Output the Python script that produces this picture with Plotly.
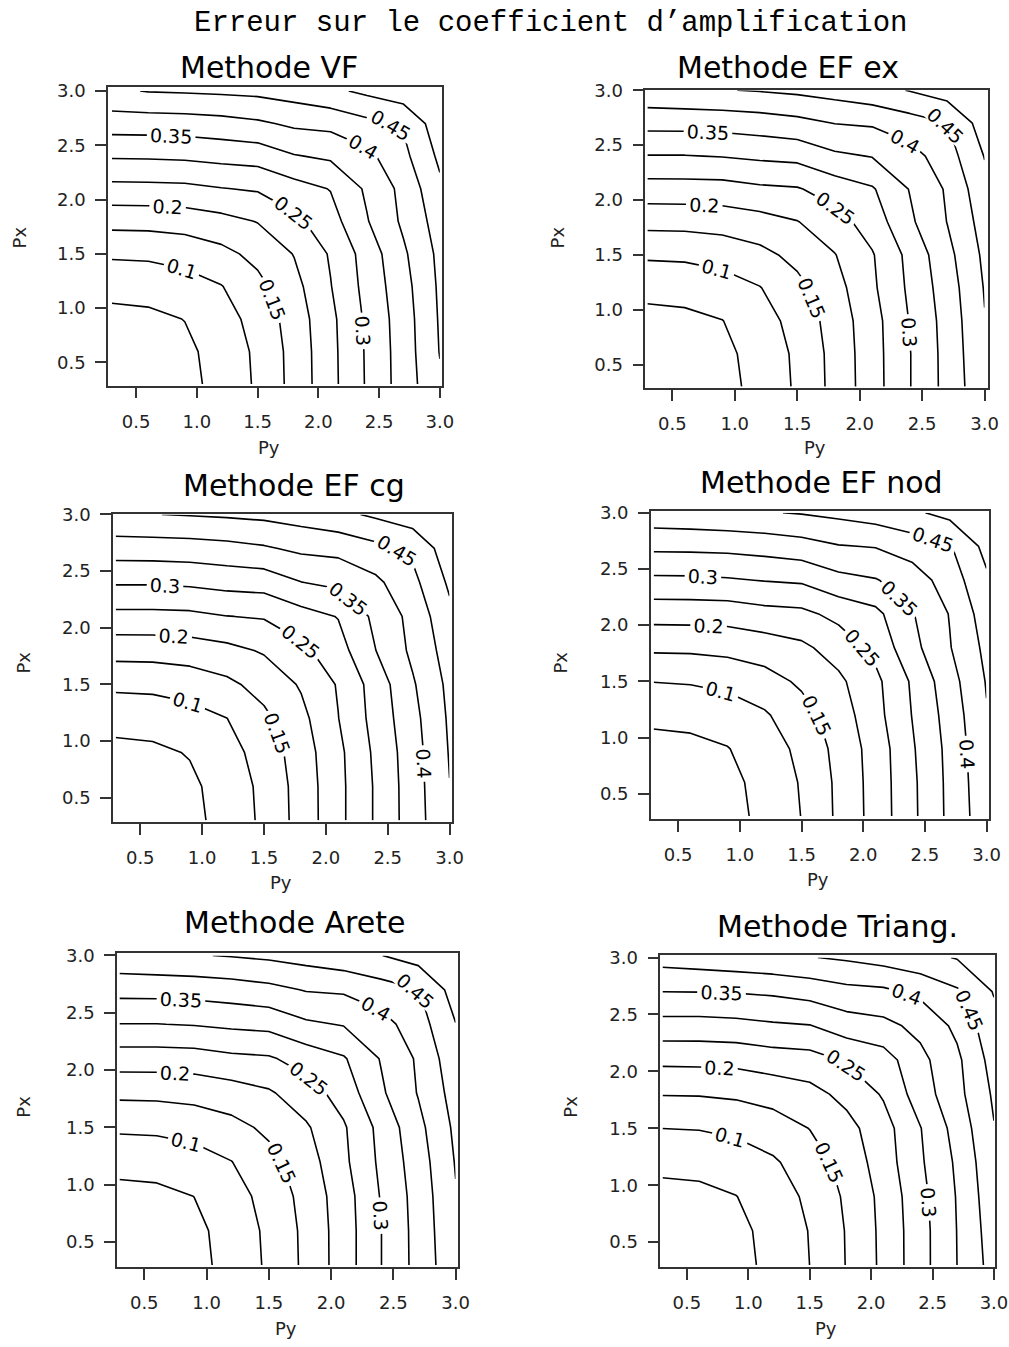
import plotly.graph_objects as go

# Grid of phase parameters (same for Px and Py)
P = [0.3, 0.6, 0.9, 1.2, 1.5, 1.8, 2.1, 2.4, 2.7, 3.0]

# Error on the amplification coefficient; rows = Px, columns = Py
err_vf = [
    [0.006, 0.016, 0.035, 0.066, 0.107, 0.166, 0.235, 0.305, 0.373, 0.443],
    [0.016, 0.023, 0.039, 0.069, 0.109, 0.167, 0.236, 0.306, 0.374, 0.452],
    [0.035, 0.039, 0.051, 0.079, 0.118, 0.172, 0.238, 0.309, 0.376, 0.455],
    [0.066, 0.069, 0.079, 0.098, 0.136, 0.184, 0.248, 0.316, 0.382, 0.458],
    [0.107, 0.109, 0.118, 0.136, 0.164, 0.202, 0.255, 0.321, 0.392, 0.462],
    [0.166, 0.167, 0.172, 0.184, 0.202, 0.238, 0.280, 0.347, 0.409, 0.472],
    [0.235, 0.236, 0.238, 0.248, 0.255, 0.280, 0.302, 0.358, 0.414, 0.490],
    [0.305, 0.306, 0.309, 0.316, 0.321, 0.347, 0.358, 0.387, 0.437, 0.510],
    [0.373, 0.374, 0.376, 0.382, 0.392, 0.409, 0.414, 0.437, 0.455, 0.530],
    [0.443, 0.452, 0.455, 0.458, 0.462, 0.472, 0.490, 0.510, 0.530, 0.550],
]

err_ef_ex = [
    [0.005, 0.016, 0.034, 0.065, 0.107, 0.165, 0.228, 0.298, 0.366, 0.438],
    [0.016, 0.022, 0.038, 0.068, 0.109, 0.166, 0.229, 0.298, 0.367, 0.443],
    [0.034, 0.038, 0.049, 0.078, 0.118, 0.171, 0.230, 0.302, 0.369, 0.448],
    [0.065, 0.068, 0.078, 0.098, 0.136, 0.181, 0.241, 0.309, 0.375, 0.453],
    [0.107, 0.109, 0.118, 0.136, 0.164, 0.198, 0.246, 0.314, 0.385, 0.460],
    [0.165, 0.166, 0.171, 0.181, 0.198, 0.230, 0.272, 0.341, 0.401, 0.470],
    [0.228, 0.229, 0.230, 0.241, 0.246, 0.272, 0.295, 0.352, 0.406, 0.485],
    [0.298, 0.298, 0.302, 0.309, 0.314, 0.341, 0.352, 0.380, 0.428, 0.502],
    [0.366, 0.367, 0.369, 0.375, 0.385, 0.401, 0.406, 0.428, 0.449, 0.525],
    [0.438, 0.443, 0.448, 0.453, 0.460, 0.470, 0.485, 0.502, 0.525, 0.545],
]

err_ef_cg = [
    [0.006, 0.017, 0.036, 0.068, 0.110, 0.169, 0.236, 0.305, 0.375, 0.445],
    [0.017, 0.023, 0.040, 0.071, 0.112, 0.170, 0.236, 0.305, 0.376, 0.449],
    [0.036, 0.040, 0.053, 0.081, 0.121, 0.175, 0.238, 0.309, 0.378, 0.453],
    [0.068, 0.071, 0.081, 0.0995, 0.139, 0.186, 0.249, 0.317, 0.384, 0.457],
    [0.110, 0.112, 0.121, 0.139, 0.168, 0.205, 0.254, 0.321, 0.394, 0.462],
    [0.169, 0.170, 0.175, 0.186, 0.205, 0.238, 0.280, 0.349, 0.410, 0.472],
    [0.236, 0.236, 0.238, 0.249, 0.254, 0.280, 0.302, 0.361, 0.415, 0.488],
    [0.305, 0.305, 0.309, 0.317, 0.321, 0.349, 0.361, 0.389, 0.436, 0.508],
    [0.375, 0.376, 0.378, 0.384, 0.394, 0.410, 0.415, 0.436, 0.460, 0.528],
    [0.445, 0.449, 0.453, 0.457, 0.462, 0.472, 0.488, 0.508, 0.528, 0.548],
]

err_ef_nod = [
    [0.005, 0.015, 0.033, 0.062, 0.101, 0.159, 0.219, 0.290, 0.361, 0.432],
    [0.015, 0.021, 0.037, 0.065, 0.104, 0.160, 0.220, 0.291, 0.362, 0.436],
    [0.033, 0.037, 0.048, 0.075, 0.112, 0.165, 0.221, 0.295, 0.364, 0.441],
    [0.062, 0.065, 0.075, 0.094, 0.131, 0.174, 0.233, 0.302, 0.370, 0.447],
    [0.101, 0.104, 0.112, 0.131, 0.158, 0.190, 0.238, 0.307, 0.380, 0.453],
    [0.159, 0.160, 0.165, 0.174, 0.190, 0.221, 0.264, 0.335, 0.397, 0.462],
    [0.219, 0.220, 0.221, 0.233, 0.238, 0.264, 0.287, 0.347, 0.402, 0.475],
    [0.290, 0.291, 0.295, 0.302, 0.307, 0.335, 0.347, 0.375, 0.423, 0.492],
    [0.361, 0.362, 0.364, 0.370, 0.380, 0.397, 0.402, 0.423, 0.445, 0.515],
    [0.432, 0.436, 0.441, 0.447, 0.453, 0.462, 0.475, 0.492, 0.515, 0.540],
]

err_arete = [
    [0.006, 0.016, 0.035, 0.066, 0.108, 0.161, 0.225, 0.299, 0.367, 0.437],
    [0.016, 0.022, 0.038, 0.069, 0.110, 0.162, 0.225, 0.299, 0.368, 0.442],
    [0.035, 0.038, 0.0503, 0.079, 0.118, 0.167, 0.227, 0.303, 0.370, 0.447],
    [0.066, 0.069, 0.079, 0.099, 0.135, 0.177, 0.239, 0.310, 0.376, 0.453],
    [0.108, 0.110, 0.118, 0.135, 0.160, 0.194, 0.244, 0.315, 0.386, 0.460],
    [0.161, 0.162, 0.167, 0.177, 0.194, 0.227, 0.271, 0.342, 0.403, 0.470],
    [0.225, 0.225, 0.227, 0.239, 0.244, 0.271, 0.295, 0.353, 0.407, 0.484],
    [0.299, 0.299, 0.303, 0.310, 0.315, 0.342, 0.353, 0.381, 0.428, 0.499],
    [0.367, 0.368, 0.370, 0.376, 0.386, 0.403, 0.407, 0.428, 0.448, 0.522],
    [0.437, 0.442, 0.447, 0.453, 0.460, 0.470, 0.484, 0.499, 0.522, 0.545],
]

err_triang = [
    [0.005, 0.016, 0.034, 0.063, 0.1002, 0.152, 0.211, 0.281, 0.3502, 0.420],
    [0.016, 0.022, 0.037, 0.066, 0.102, 0.153, 0.212, 0.281, 0.351, 0.426],
    [0.034, 0.037, 0.049, 0.075, 0.110, 0.158, 0.214, 0.285, 0.353, 0.433],
    [0.063, 0.066, 0.075, 0.093, 0.127, 0.168, 0.225, 0.293, 0.358, 0.440],
    [0.1002, 0.102, 0.110, 0.127, 0.151, 0.184, 0.230, 0.298, 0.369, 0.448],
    [0.152, 0.153, 0.158, 0.168, 0.184, 0.214, 0.255, 0.325, 0.385, 0.457],
    [0.211, 0.212, 0.214, 0.225, 0.230, 0.255, 0.278, 0.336, 0.390, 0.470],
    [0.281, 0.281, 0.285, 0.293, 0.298, 0.325, 0.336, 0.364, 0.411, 0.485],
    [0.3502, 0.351, 0.353, 0.358, 0.369, 0.385, 0.390, 0.411, 0.443, 0.503],
    [0.420, 0.426, 0.433, 0.440, 0.448, 0.457, 0.470, 0.485, 0.503, 0.525],
]

tick_vals = [0.5, 1.0, 1.5, 2.0, 2.5, 3.0]
tick_text = ["0.5", "1.0", "1.5", "2.0", "2.5", "3.0"]

W, H = 1009, 1347
SANS = "DejaVu Sans"
MONO = "Courier New, Courier, Nimbus Mono PS, FreeMono, Liberation Mono, monospace"

# title, data, plot box in px (left, right, top, bottom), x range, y range,
# title centre, "Py" label centre, "Px" label centre
panels = [
    ("Methode VF", err_vf, (109.4, 448.1, 77.9, 378.5), (0.268, 3.02), (0.286, 3.034),
     (272.5, 57.8), (272.5, 440.8), (19.7, 228.7)),
    ("Methode EF ex", err_ef_ex, (653.7, 1000.8, 80.2, 380.8), (0.284, 3.026), (0.288, 3.006),
     (798.3, 57.8), (825.6, 440.8), (564.7, 228.7)),
    ("Methode EF cg", err_ef_cg, (114.5, 458.2, 507.5, 818.1), (0.28, 3.022), (0.286, 3.006),
     (297.8, 479.0), (284.6, 879.2), (23.8, 657.0)),
    ("Methode EF nod", err_ef_nod, (659.4, 1001.8, 504.9, 814.8), (0.279, 3.019), (0.278, 3.014),
     (832.6, 476.0), (828.6, 876.2), (567.7, 657.0)),
    ("Methode Arete", err_arete, (118.5, 463.9, 950.5, 1266.5), (0.281, 3.018), (0.282, 3.017),
     (298.8, 919.4), (289.7, 1328.5), (23.8, 1104.4)),
    ("Methode Triang.", err_triang, (668.9, 1008.3, 952.3, 1266.5), (0.283, 3.011), (0.281, 3.02),
     (848.8, 923.4), (836.7, 1328.5), (577.9, 1104.4)),
]

fig = go.Figure()
layout = {}
annotations = [
    dict(text="Erreur sur le coefficient d\u2019amplification", x=557.7 / W, y=1 - 14 / H,
         xref="paper", yref="paper", showarrow=False, xanchor="center", yanchor="middle",
         font=dict(family=MONO, size=29, color="black")),
]

for k, (title, z, box, xr, yr, tpos, pypos, pxpos) in enumerate(panels, start=1):
    left, right, top, bottom = box
    xname = "x" if k == 1 else f"x{k}"
    yname = "y" if k == 1 else f"y{k}"
    fig.add_trace(go.Contour(
        x=P, y=P, z=z, xaxis=xname, yaxis=yname,
        contours=dict(start=0.05, end=0.5001, size=0.05, coloring="lines",
                      showlabels=True,
                      labelfont=dict(family=SANS, size=19, color="black")),
        colorscale=[[0, "black"], [1, "black"]], showscale=False,
        line=dict(width=1.6, smoothing=0), hoverinfo="skip",
    ))
    common = dict(showgrid=False, zeroline=False, showline=True, mirror=True,
                  linecolor="#333333", linewidth=1.5, ticks="outside", ticklen=11,
                  tickwidth=1.5, tickcolor="#333333", tickvals=tick_vals,
                  ticktext=tick_text, ticklabeloverflow="allow",
                  tickfont=dict(family=SANS, size=18, color="#222222"))
    layout["xaxis" if k == 1 else f"xaxis{k}"] = dict(
        common, domain=[left / W, right / W], range=list(xr), anchor=yname,
        ticklabelstandoff=8)
    layout["yaxis" if k == 1 else f"yaxis{k}"] = dict(
        common, domain=[1 - bottom / H, 1 - top / H], range=list(yr), anchor=xname,
        ticklabelstandoff=6)
    annotations.append(dict(text=title, x=tpos[0] / W, y=1 - tpos[1] / H, xref="paper",
                            yref="paper", showarrow=False, xanchor="center", yanchor="middle",
                            font=dict(family=SANS, size=30, color="black")))
    annotations.append(dict(text="Py", x=pypos[0] / W, y=1 - pypos[1] / H, xref="paper",
                            yref="paper", showarrow=False, xanchor="center", yanchor="middle",
                            font=dict(family=SANS, size=18, color="#222222")))
    annotations.append(dict(text="Px", x=pxpos[0] / W, y=1 - pxpos[1] / H, xref="paper",
                            yref="paper", showarrow=False, xanchor="center", yanchor="middle",
                            textangle=-90, font=dict(family=SANS, size=18, color="#222222")))

fig.update_layout(
    width=W, height=H, margin=dict(l=0, r=0, t=0, b=0),
    paper_bgcolor="white", plot_bgcolor="white", showlegend=False,
    annotations=annotations, **layout,
)

fig.write_html("out.html")
